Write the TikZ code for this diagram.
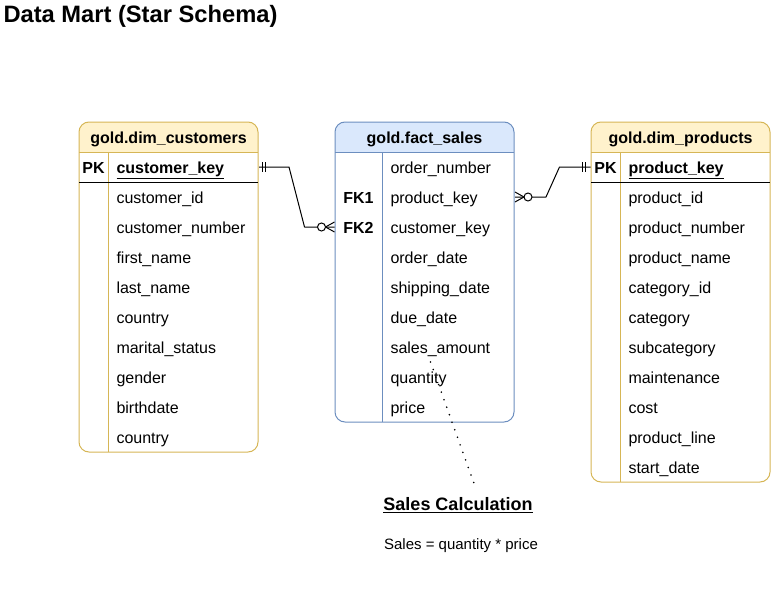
\documentclass[tikz,border=0pt]{standalone}
\usepackage{fontspec}
\setmainfont{Liberation Sans}
\usetikzlibrary{positioning}
\definecolor{dimfill}{HTML}{FFF2CC}
\definecolor{dimline}{HTML}{D6B656}
\definecolor{factfill}{HTML}{DAE8FC}
\definecolor{factline}{HTML}{6C8EBF}
\tikzset{
  every node/.style={inner sep=0pt, font=\fontsize{16}{19}\selectfont,
                     text height=13.5pt, text depth=1.5pt},
  field/.style={anchor=west, text width=#1, align=left},
  keycol/.style={minimum width=#1, minimum height=30pt,
                 font=\fontsize{16}{19}\selectfont\bfseries},
  tabhead/.style={font=\fontsize{16}{19}\selectfont\bfseries},
  link/.style={line width=1pt, line join=round},
}
\begin{document}
\begin{tikzpicture}[x=1pt, y=-1pt, line width=1pt]
\useasboundingbox (0,0) rectangle (771,605);
\node[anchor=west, font=\fontsize{23.7}{28}\selectfont\bfseries] (title) at (3,16) {Data Mart (Star Schema)};

% gold.dim_customers
\begin{scope}
  \clip[rounded corners=10pt] (79,122) rectangle (258,452);
  \fill[dimfill] (79,122) rectangle (258,152);
\end{scope}
\draw[dimline, rounded corners=10pt] (79,122) rectangle (258,452);
\draw[dimline] (79,152) -- (258,152) (108,152) -- (108,452);
\draw (79,182) -- (258,182);
\node[tabhead] (cust) at (168.5,137) {gold.dim\_customers};
\node[keycol=29pt] (cpk) at (93.5,167) {PK};
\node[field=142pt, font=\fontsize{16}{19}\selectfont\bfseries] (ckey) at (116,167) {\underline{customer\_key}};
\foreach \f [count=\i] in {customer\_id, customer\_number, first\_name, last\_name,
    country, marital\_status, gender, birthdate, country}
  \node[field=142pt] (cust-\i) at (116,167+30*\i) {\f};

% gold.fact_sales
\begin{scope}
  \clip[rounded corners=10pt] (335,122) rectangle (514,422);
  \fill[factfill] (335,122) rectangle (514,152);
\end{scope}
\draw[factline, rounded corners=10pt] (335,122) rectangle (514,422);
\draw[factline] (335,152) -- (514,152) (382,152) -- (382,422);
\node[tabhead] (fact) at (424.5,137) {gold.fact\_sales};
\node[keycol=47pt] (fk1) at (358.5,197) {FK1};
\node[keycol=47pt] (fk2) at (358.5,227) {FK2};
\foreach \f [count=\i] in {order\_number, product\_key, customer\_key, order\_date,
    shipping\_date, due\_date, sales\_amount, quantity, price}
  \node[field=124pt] (fact-\i) at (390,137+30*\i) {\f};

% gold.dim_products
\begin{scope}
  \clip[rounded corners=10pt] (591,122) rectangle (770,482);
  \fill[dimfill] (591,122) rectangle (770,152);
\end{scope}
\draw[dimline, rounded corners=10pt] (591,122) rectangle (770,482);
\draw[dimline] (591,152) -- (770,152) (620,152) -- (620,482);
\draw (591,182) -- (770,182);
\node[tabhead] (prod) at (680.5,137) {gold.dim\_products};
\node[keycol=29pt] (ppk) at (605.5,167) {PK};
\node[field=142pt, font=\fontsize{16}{19}\selectfont\bfseries] (pkey) at (628,167) {\underline{product\_key}};
\foreach \f [count=\i] in {product\_id, product\_number, product\_name, category\_id,
    category, subcategory, maintenance, cost, product\_line, start\_date}
  \node[field=142pt] (prod-\i) at (628,167+30*\i) {\f};

% customers -> fact
\draw[link] (ckey.east) -- ++(30,0) -- ([xshift=-30pt]fk2.west) -- (fk2.west);
\draw ([xshift=3pt]ckey.east) ++(0,-5) -- ++(0,10);
\draw ([xshift=6pt]ckey.east) ++(0,-5) -- ++(0,10);
\draw ([xshift=-9pt]fk2.west) -- ([yshift=5pt]fk2.west)
      ([xshift=-9pt]fk2.west) -- ([yshift=-5pt]fk2.west);
\draw[fill=white] ([xshift=-13pt]fk2.west) circle[radius=4pt];

% products -> fact
\draw[link] (pkey.west -| ppk.west) -- ++(-31,0) -- ([xshift=31pt]fact-2.east) -- (fact-2.east);
\draw ([xshift=-8pt]ppk.west) ++(0,-5) -- ++(0,10);
\draw ([xshift=-5pt]ppk.west) ++(0,-5) -- ++(0,10);
\draw ([xshift=9pt]fact-2.east) -- ([yshift=5pt]fact-2.east)
      ([xshift=9pt]fact-2.east) -- ([yshift=-5pt]fact-2.east);
\draw[fill=white] ([xshift=13pt]fact-2.east) circle[radius=4pt];

% note
\node[font=\fontsize{18}{22}\selectfont\bfseries, text height=15pt, text depth=2pt] (calc) at (458,504) {\underline{Sales Calculation}};
\node[font=\fontsize{15}{18}\selectfont] (formula) at (461,543) {Sales = quantity * price};
\coordinate (calcpin) at (430.5,362);
\draw[line width=1.8pt, line cap=round, dash pattern=on 0pt off 8pt]
  (calcpin) -- ([xshift=18pt, yshift=6pt]calc.north);
\end{tikzpicture}
\end{document}
